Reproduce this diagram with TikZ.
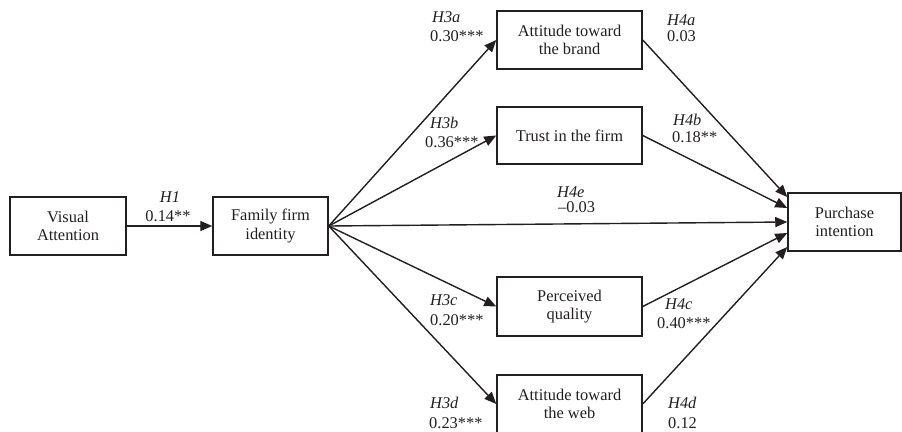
\documentclass[tikz,border=0pt]{standalone}
\usepackage{fontspec}
\setmainfont{Liberation Serif}
\usetikzlibrary{arrows.meta,calc}
\definecolor{ink}{HTML}{231F20}
\begin{document}
\begin{tikzpicture}[x=1pt,y=-1pt,color=ink,
  txt/.style={font=\fontsize{16.4}{18.5}\selectfont,text=ink},
  box/.style={txt,draw=ink,line width=1.5pt,align=center,inner sep=0pt},
  lab/.style={txt,anchor=base west,inner sep=0pt},
  arr/.style={draw=ink,line width=1.4pt,-{Triangle[length=12pt,width=10pt]}}]
\useasboundingbox (0,0) rectangle (902,431);
% boxes
\node[box,minimum width=116pt,minimum height=58pt] (va) at (68,226) {Visual\\Attention};
\node[box,minimum width=115pt,minimum height=58pt] (ffi) at (270.5,226) {Family firm\\identity};
\node[box,minimum width=145pt,minimum height=58pt] (atb) at (569.5,40) {Attitude toward\\the brand};
\node[box,minimum width=145pt,minimum height=57pt] (trust) at (569.5,135.5) {Trust in the firm};
\node[box,minimum width=145pt,minimum height=59pt] (pq) at (569.5,306.5) {Perceived\\quality};
\node[box,minimum width=145pt,minimum height=58pt] (atw) at (569.5,404) {Attitude toward\\the web};
\node[box,minimum width=113pt,minimum height=58pt] (pi) at (844.5,222) {Purchase\\intention};
% arrival points on Purchase intention
\coordinate (p1) at ($(pi.west)+(0,-25)$);
\coordinate (p2) at ($(pi.west)+(0,-14)$);
\coordinate (p4) at ($(pi.west)+(0,11)$);
\coordinate (p5) at ($(pi.west)+(0,25)$);
% connectors
\draw[arr] (va.east) -- (ffi.west);
\draw[arr] (ffi.east) -- (atb.west);
\draw[arr] (ffi.east) -- (trust.west);
\draw[arr] (ffi.east) -- (pq.west);
\draw[arr] (ffi.east) -- (atw.west);
\draw[arr] (ffi.east) -- (pi.west);
\draw[arr] (atb.east) -- (p1);
\draw[arr] (trust.east) -- (p2);
\draw[arr] (pq.east) -- (p4);
\draw[arr] (atw.east) -- (p5);
% labels
\node[txt,anchor=base,inner sep=0pt] (lh1) at (170,202) {\textit{H1}};
\node[txt,anchor=base,inner sep=0pt] (lv1) at (168,221) {0.14**};
\node[lab] (lh3a) at (432,23) {\textit{H3a}};
\node[lab] (lv3a) at (430,41) {0.30***};
\node[lab] (lh4a) at (667,25) {\textit{H4a}};
\node[lab] (lv4a) at (667,41.5) {0.03};
\node[lab] (lh3b) at (430,128) {\textit{H3b}};
\node[lab] (lv3b) at (425,147) {0.36***};
\node[lab] (lh4b) at (673,125) {\textit{H4b}};
\node[lab] (lv4b) at (672,142) {0.18**};
\node[lab] (lh4e) at (557,197) {\textit{H4e}};
\node[lab] (lv4e) at (558,212) {–0.03};
\node[lab] (lh3c) at (430,305.5) {\textit{H3c}};
\node[lab] (lv3c) at (430,325) {0.20***};
\node[lab] (lh4c) at (665,309) {\textit{H4c}};
\node[lab] (lv4c) at (657,328) {0.40***};
\node[lab] (lh3d) at (430,408) {\textit{H3d}};
\node[lab] (lv3d) at (429,428) {0.23***};
\node[lab] (lh4d) at (668,408) {\textit{H4d}};
\node[lab] (lv4d) at (668,428) {0.12};
\end{tikzpicture}
\end{document}
